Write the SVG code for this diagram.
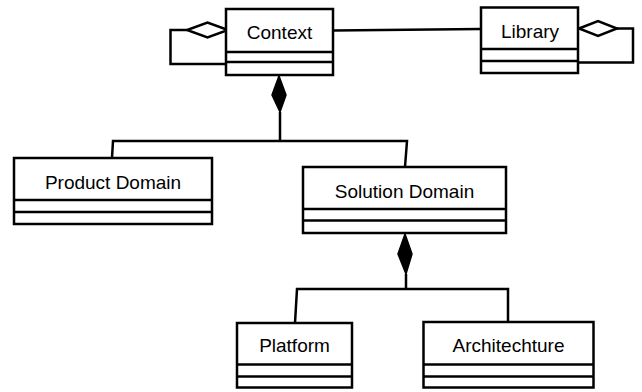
<svg xmlns="http://www.w3.org/2000/svg" width="642" height="392" viewBox="0 0 642 392">
  <style>
    .box { fill: #ffffff; stroke: #000000; stroke-width: 2.5; }
    .div { stroke: #000000; stroke-width: 2.5; }
    .label { font-family: "Liberation Sans", Arial, sans-serif; font-size: 19px; fill: #000000; text-anchor: middle; }
    .line { fill: none; stroke: #000000; stroke-width: 2.5; stroke-linejoin: miter; }
    .agg { fill: #ffffff; stroke: #000000; stroke-width: 2.5; }
    .comp { fill: #000000; stroke: #000000; stroke-width: 1.5; }
  </style>
  <rect width="642" height="392" fill="#ffffff"/>

  <!-- associations, aggregations and compositions -->
  <g id="connectors">
    <!-- Context — Library -->
    <line class="line" x1="333" y1="30.5" x2="481" y2="29"/>
    <!-- Context self aggregation -->
    <polyline class="line" points="187,30 170.5,30 170.5,64 226,64"/>
    <polygon class="agg" points="228,30 207.5,22.5 187,30 207.5,37.5"/>
    <!-- Library self aggregation -->
    <polyline class="line" points="617,28.5 633,28.5 633,62.5 578,62.5"/>
    <polygon class="agg" points="579,28.5 598,21 617,28.5 598,36"/>
    <!-- Context composition -->
    <polyline class="line" points="280,112 280,141"/>
    <polyline class="line" points="112,158 113,141 407,141 405,167"/>
    <polygon class="comp" points="279,76 286,95 280,112 272,95"/>
    <!-- Solution Domain composition -->
    <polyline class="line" points="406,274 406,289"/>
    <polyline class="line" points="295,323 297,289 508,289 508,322"/>
    <polygon class="comp" points="405,234 412,254 406,274 398,254"/>
  </g>

  <g id="context">
    <rect class="box" x="226" y="9" width="107" height="66"/>
    <line class="div" x1="226" y1="52" x2="333" y2="52"/>
    <line class="div" x1="226" y1="62" x2="333" y2="62"/>
    <text class="label" x="279.5" y="39">Context</text>
  </g>

  <g id="library">
    <rect class="box" x="481" y="7.5" width="97" height="65.5"/>
    <line class="div" x1="481" y1="49" x2="578" y2="49"/>
    <line class="div" x1="481" y1="61" x2="578" y2="61"/>
    <text class="label" x="530" y="37.5">Library</text>
  </g>

  <g id="product-domain">
    <rect class="box" x="14" y="158" width="198" height="66"/>
    <line class="div" x1="14" y1="200" x2="212" y2="200"/>
    <line class="div" x1="14" y1="212" x2="212" y2="212"/>
    <text class="label" x="113" y="189">Product Domain</text>
  </g>

  <g id="solution-domain">
    <rect class="box" x="303" y="167" width="203" height="66"/>
    <line class="div" x1="303" y1="209" x2="506" y2="209"/>
    <line class="div" x1="303" y1="220.5" x2="506" y2="220.5"/>
    <text class="label" x="404.5" y="197.5">Solution Domain</text>
  </g>

  <g id="platform">
    <rect class="box" x="237" y="323" width="115" height="64.5"/>
    <line class="div" x1="237" y1="364.5" x2="352" y2="364.5"/>
    <line class="div" x1="237" y1="376.5" x2="352" y2="376.5"/>
    <text class="label" x="294.5" y="352">Platform</text>
  </g>

  <g id="architechture">
    <rect class="box" x="423.5" y="322" width="170" height="65.5"/>
    <line class="div" x1="423.5" y1="364.5" x2="593.5" y2="364.5"/>
    <line class="div" x1="423.5" y1="376.5" x2="593.5" y2="376.5"/>
    <text class="label" x="508.5" y="352">Architechture</text>
  </g>
</svg>
